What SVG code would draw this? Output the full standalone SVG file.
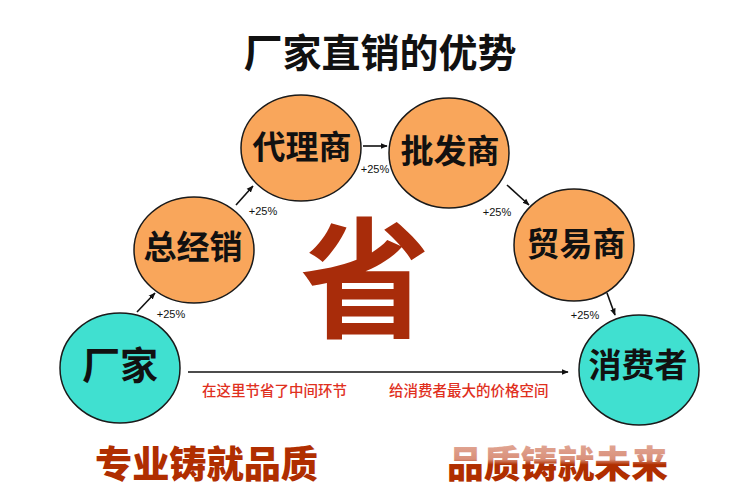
<svg xmlns="http://www.w3.org/2000/svg" width="750" height="496" viewBox="0 0 750 496">
<defs>
<style>
.cjk{font-family:"Noto Sans CJK SC","Noto Sans CJK JP",sans-serif;}
.title{font-size:39px;font-weight:bold;fill:#111;}
.node-o{fill:#F9A65B;stroke:#1a1a1a;stroke-width:1.5;}
.node-c{fill:#40E0D0;stroke:#1a1a1a;stroke-width:1.5;}
.nt{font-size:33px;font-weight:bold;fill:#111;text-anchor:middle;dominant-baseline:central;}
.pct{font-family:"Liberation Sans",Arial,sans-serif;font-size:11px;fill:#111;text-anchor:middle;dominant-baseline:central;}
.red{font-size:14.5px;font-weight:500;fill:#E0301E;dominant-baseline:central;}
.slog{font-size:37px;font-weight:900;fill:#B02E00;dominant-baseline:central;}
.con{stroke:#111;stroke-width:1.6;fill:none;marker-end:url(#ah);}
</style>
<marker id="ah" viewBox="0 0 10 10" refX="9" refY="5" markerWidth="7" markerHeight="7" markerUnits="userSpaceOnUse" orient="auto">
<path d="M0,1 L10,5 L0,9 Z" fill="#111"/>
</marker>
<linearGradient id="fade" x1="0" y1="0" x2="0" y2="1">
<stop offset="0" stop-color="#E6B3A3"/>
<stop offset="0.45" stop-color="#D9907A"/>
<stop offset="0.55" stop-color="#B02E00"/>
<stop offset="1" stop-color="#B02E00"/>
</linearGradient>
</defs>
<rect width="750" height="496" fill="#fff"/>

<text class="cjk title" x="380" y="50" text-anchor="middle" dominant-baseline="central">厂家直销的优势</text>

<g id="connectors">
<line class="con" x1="137" y1="312" x2="155" y2="293"/>
<line class="con" x1="236" y1="205" x2="253" y2="186"/>
<line class="con" x1="363" y1="146" x2="387" y2="146"/>
<line class="con" x1="507" y1="185" x2="529" y2="205"/>
<line class="con" x1="607" y1="293" x2="615" y2="315"/>
<line class="con" x1="188" y1="372" x2="568" y2="372"/>
<text class="pct" x="171" y="314">+25%</text>
<text class="pct" x="263" y="211">+25%</text>
<text class="pct" x="375" y="169">+25%</text>
<text class="pct" x="497" y="212">+25%</text>
<text class="pct" x="585" y="315">+25%</text>
<text class="cjk red" x="202" y="389">在这里节省了中间环节</text>
<text class="cjk red" x="389" y="389">给消费者最大的价格空间</text>
</g>

<g id="n-changjia">
<ellipse class="node-c" cx="120" cy="368" rx="60" ry="55"/>
<text class="cjk nt" x="120" y="362" style="font-size:38px">厂家</text>
</g>
<g id="n-zongjingxiao">
<ellipse class="node-o" cx="194" cy="250" rx="60" ry="53"/>
<text class="cjk nt" x="193" y="245">总经销</text>
</g>
<g id="n-dailishang">
<ellipse class="node-o" cx="301" cy="148" rx="60" ry="53"/>
<text class="cjk nt" x="302" y="145">代理商</text>
</g>
<g id="n-pifashang">
<ellipse class="node-o" cx="449" cy="153" rx="60" ry="55"/>
<text class="cjk nt" x="450" y="149">批发商</text>
</g>
<g id="n-maoyishang">
<ellipse class="node-o" cx="574" cy="245" rx="60" ry="56"/>
<text class="cjk nt" x="576" y="242">贸易商</text>
</g>
<g id="n-xiaofeizhe">
<ellipse class="node-c" cx="639" cy="370" rx="60" ry="55"/>
<text class="cjk nt" x="638" y="363">消费者</text>
</g>

<text class="cjk" x="365" y="270" font-size="130" font-weight="bold" fill="#A82C0A" text-anchor="middle" dominant-baseline="central">省</text>

<text class="cjk slog" x="95" y="462" textLength="223" lengthAdjust="spacingAndGlyphs">专业铸就品质</text>
<text class="cjk slog" x="447" y="462" textLength="221" lengthAdjust="spacingAndGlyphs" style="fill:url(#fade)">品质铸就未来</text>
</svg>
